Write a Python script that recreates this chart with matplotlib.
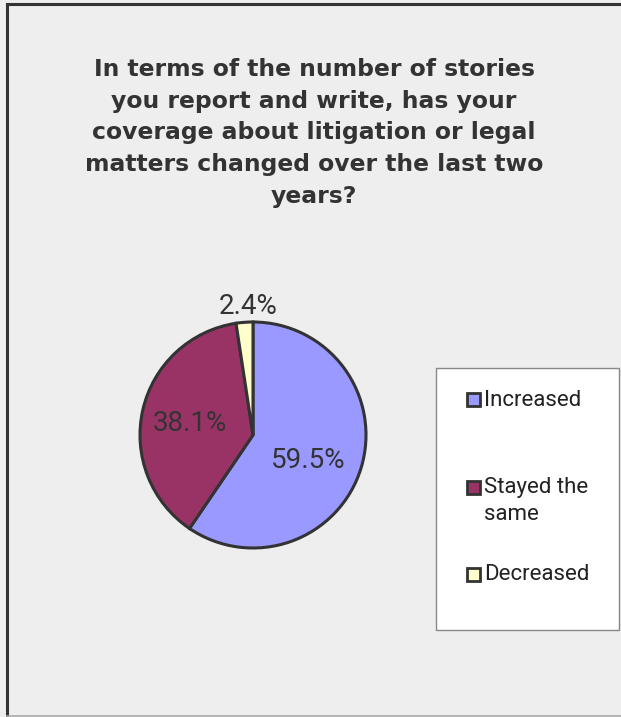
import matplotlib.pyplot as plt
from matplotlib.patches import Rectangle

# Survey answers
labels = ['Increased', 'Stayed the same', 'Decreased']
legend_labels = ['Increased', 'Stayed the\nsame', 'Decreased']
shares = [59.5, 38.1, 2.4]
colors = ['#9999ff', '#993366', '#ffffcc']
title = ('In terms of the number of stories\nyou report and write, has your\n'
         'coverage about litigation or legal\nmatters changed over the last two\nyears?')

W, H = 621, 717
fig = plt.figure(figsize=(W / 100, H / 100), dpi=100)
fig.patch.set_facecolor('#eeeeee')

# outer frame: dark on left/top, light on right/bottom
fig.add_artist(plt.Line2D([7 / W, 7 / W], [0, 1 - 3.5 / H], color='#333333', lw=2.2, transform=fig.transFigure))
fig.add_artist(plt.Line2D([7 / W, 1], [1 - 3.5 / H, 1 - 3.5 / H], color='#333333', lw=2.2, transform=fig.transFigure))
fig.add_artist(plt.Line2D([7 / W, 1], [0.001, 0.001], color='#aaaaaa', lw=1.2, transform=fig.transFigure))

fig.text(314 / W, 1 - 133 / H, title, ha='center', va='center', fontsize=16.9, fontweight='bold',
         color='#333333', linespacing=1.48, family='DejaVu Sans', multialignment='center')

# pie axes: centre ~ (253, 435) px, radius ~113 px
r = 113
cx, cy = 253, 435
ax = fig.add_axes([(cx - r) / W, (H - cy - r) / H, 2 * r / W, 2 * r / H])
ax.set_facecolor('none')
wedges, _ = ax.pie(shares, colors=colors, startangle=90, counterclock=False,
                   wedgeprops=dict(edgecolor='#333333', linewidth=2.2))
ax.set_xlim(-1, 1)
ax.set_ylim(-1, 1)
ax.set_aspect('auto')

# percentage labels
lab_font = dict(fontsize=20, color='#333333', family='Roboto', ha='center', va='center')
ax.text(0.49, -0.23, f'{shares[0]}%', **lab_font)
ax.text(-0.56, 0.10, f'{shares[1]}%', **lab_font)
ax.text(-0.04, 1.14, f'{shares[2]}%', **lab_font, clip_on=False)

# legend box
lx0, ly0, lx1, ly1 = 436, 368, 619, 630
fig.add_artist(Rectangle((lx0 / W, 1 - ly1 / H), (lx1 - lx0) / W, (ly1 - ly0) / H,
                         transform=fig.transFigure, facecolor='white', edgecolor='#888888', lw=1))
marker_y = [400, 487, 574]
text_y = [400, 501, 574]
for lab, c, my, ty in zip(legend_labels, colors, marker_y, text_y):
    fig.add_artist(Rectangle((467 / W, 1 - (my + 6.5) / H), 13 / W, 13 / H,
                             transform=fig.transFigure, facecolor=c, edgecolor='#333333', lw=2))
    fig.text(484 / W, 1 - ty / H, lab, fontsize=16, color='#222222', family='Roboto',
             va='center', linespacing=1.4)

fig.savefig('out.png', dpi=100, facecolor=fig.get_facecolor())
